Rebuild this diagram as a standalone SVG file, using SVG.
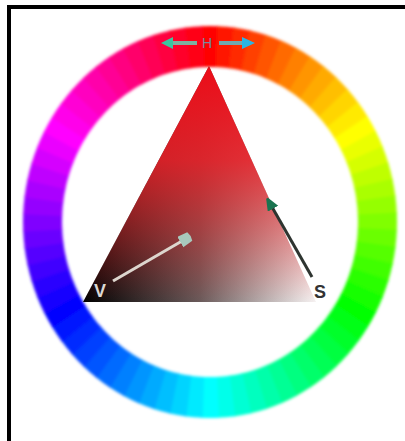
<svg xmlns="http://www.w3.org/2000/svg" xmlns:xlink="http://www.w3.org/1999/xlink" width="405" height="441" viewBox="0 0 405 441">
<defs>
<style>
.lbl{font-family:"Liberation Sans",Arial,sans-serif;text-anchor:middle}
.frame{stroke:#000;stroke-width:4;fill:none}
</style>
<filter id="soft" x="-5%" y="-5%" width="110%" height="110%"><feGaussianBlur stdDeviation="1.6"/></filter>
<path id="w" d="M -8.97 -186.78 A 187 187 0 0 1 8.97 -186.78 L 7.10 -147.83 A 148 148 0 0 0 -7.10 -147.83 Z"/>
<linearGradient id="gBase" gradientUnits="userSpaceOnUse" x1="83" y1="0" x2="316" y2="0">
<stop offset="0" stop-color="#000"/><stop offset="0.5" stop-color="#6a5a5a"/><stop offset="1" stop-color="#f6f2f2"/>
</linearGradient>
<linearGradient id="gRed" gradientUnits="userSpaceOnUse" x1="0" y1="66" x2="0" y2="302">
<stop offset="0" stop-color="#ec0c18" stop-opacity="1"/><stop offset="0.4" stop-color="#ec1c24" stop-opacity="0.85"/><stop offset="1" stop-color="#e82020" stop-opacity="0"/>
</linearGradient>
<marker id="hL" markerUnits="userSpaceOnUse" markerWidth="14" markerHeight="14" refX="2" refY="6" orient="auto"><path d="M0 0 L12 6 L0 12 Z" fill="#3cc4a0"/></marker>
<marker id="hR" markerUnits="userSpaceOnUse" markerWidth="16" markerHeight="14" refX="2" refY="6" orient="auto"><path d="M0 0 L13 6 L0 12 Z" fill="#2cb4e4"/></marker>
<marker id="vH" markerUnits="userSpaceOnUse" markerWidth="14" markerHeight="14" refX="2" refY="6" orient="auto"><path d="M0 0 L11 1 L12 6 L11 11 L0 12 Z" fill="#a8c8bc"/></marker>
<marker id="sH" markerUnits="userSpaceOnUse" markerWidth="14" markerHeight="14" refX="2" refY="6" orient="auto"><path d="M0 0 L12 5 L12 7 L0 12 Z" fill="#1a7450"/></marker>
</defs>
<rect width="405" height="441" fill="#fff"/>
<g id="frame"><path class="frame" d="M9 441 V7 H405"/></g>
<g id="hue-ring" filter="url(#soft)">
<g transform="translate(210 222) scale(1 1.048)">
<use xlink:href="#w" transform="rotate(0)" fill="hsl(0,100%,50%)"/><use xlink:href="#w" transform="rotate(5)" fill="hsl(5,100%,50%)"/><use xlink:href="#w" transform="rotate(10)" fill="hsl(10,100%,50%)"/><use xlink:href="#w" transform="rotate(15)" fill="hsl(15,100%,50%)"/><use xlink:href="#w" transform="rotate(20)" fill="hsl(20,100%,50%)"/><use xlink:href="#w" transform="rotate(25)" fill="hsl(25,100%,50%)"/><use xlink:href="#w" transform="rotate(30)" fill="hsl(30,100%,50%)"/><use xlink:href="#w" transform="rotate(35)" fill="hsl(35,100%,50%)"/><use xlink:href="#w" transform="rotate(40)" fill="hsl(40,100%,50%)"/><use xlink:href="#w" transform="rotate(45)" fill="hsl(45,100%,50%)"/><use xlink:href="#w" transform="rotate(50)" fill="hsl(50,100%,50%)"/><use xlink:href="#w" transform="rotate(55)" fill="hsl(55,100%,50%)"/>
<use xlink:href="#w" transform="rotate(60)" fill="hsl(60,100%,50%)"/><use xlink:href="#w" transform="rotate(65)" fill="hsl(65,100%,50%)"/><use xlink:href="#w" transform="rotate(70)" fill="hsl(70,100%,50%)"/><use xlink:href="#w" transform="rotate(75)" fill="hsl(75,100%,50%)"/><use xlink:href="#w" transform="rotate(80)" fill="hsl(80,100%,50%)"/><use xlink:href="#w" transform="rotate(85)" fill="hsl(85,100%,50%)"/><use xlink:href="#w" transform="rotate(90)" fill="hsl(90,100%,50%)"/><use xlink:href="#w" transform="rotate(95)" fill="hsl(95,100%,50%)"/><use xlink:href="#w" transform="rotate(100)" fill="hsl(100,100%,50%)"/><use xlink:href="#w" transform="rotate(105)" fill="hsl(105,100%,50%)"/><use xlink:href="#w" transform="rotate(110)" fill="hsl(110,100%,50%)"/><use xlink:href="#w" transform="rotate(115)" fill="hsl(115,100%,50%)"/>
<use xlink:href="#w" transform="rotate(120)" fill="hsl(120,100%,50%)"/><use xlink:href="#w" transform="rotate(125)" fill="hsl(125,100%,50%)"/><use xlink:href="#w" transform="rotate(130)" fill="hsl(130,100%,50%)"/><use xlink:href="#w" transform="rotate(135)" fill="hsl(135,100%,50%)"/><use xlink:href="#w" transform="rotate(140)" fill="hsl(140,100%,50%)"/><use xlink:href="#w" transform="rotate(145)" fill="hsl(145,100%,50%)"/><use xlink:href="#w" transform="rotate(150)" fill="hsl(150,100%,50%)"/><use xlink:href="#w" transform="rotate(155)" fill="hsl(155,100%,50%)"/><use xlink:href="#w" transform="rotate(160)" fill="hsl(160,100%,50%)"/><use xlink:href="#w" transform="rotate(165)" fill="hsl(165,100%,50%)"/><use xlink:href="#w" transform="rotate(170)" fill="hsl(170,100%,50%)"/><use xlink:href="#w" transform="rotate(175)" fill="hsl(175,100%,50%)"/>
<use xlink:href="#w" transform="rotate(180)" fill="hsl(180,100%,50%)"/><use xlink:href="#w" transform="rotate(185)" fill="hsl(185,100%,50%)"/><use xlink:href="#w" transform="rotate(190)" fill="hsl(190,100%,50%)"/><use xlink:href="#w" transform="rotate(195)" fill="hsl(195,100%,50%)"/><use xlink:href="#w" transform="rotate(200)" fill="hsl(200,100%,50%)"/><use xlink:href="#w" transform="rotate(205)" fill="hsl(205,100%,50%)"/><use xlink:href="#w" transform="rotate(210)" fill="hsl(210,100%,50%)"/><use xlink:href="#w" transform="rotate(215)" fill="hsl(215,100%,50%)"/><use xlink:href="#w" transform="rotate(220)" fill="hsl(220,100%,50%)"/><use xlink:href="#w" transform="rotate(225)" fill="hsl(225,100%,50%)"/><use xlink:href="#w" transform="rotate(230)" fill="hsl(230,100%,50%)"/><use xlink:href="#w" transform="rotate(235)" fill="hsl(235,100%,50%)"/>
<use xlink:href="#w" transform="rotate(240)" fill="hsl(240,100%,50%)"/><use xlink:href="#w" transform="rotate(245)" fill="hsl(245,100%,50%)"/><use xlink:href="#w" transform="rotate(250)" fill="hsl(250,100%,50%)"/><use xlink:href="#w" transform="rotate(255)" fill="hsl(255,100%,50%)"/><use xlink:href="#w" transform="rotate(260)" fill="hsl(260,100%,50%)"/><use xlink:href="#w" transform="rotate(265)" fill="hsl(265,100%,50%)"/><use xlink:href="#w" transform="rotate(270)" fill="hsl(270,100%,50%)"/><use xlink:href="#w" transform="rotate(275)" fill="hsl(275,100%,50%)"/><use xlink:href="#w" transform="rotate(280)" fill="hsl(280,100%,50%)"/><use xlink:href="#w" transform="rotate(285)" fill="hsl(285,100%,50%)"/><use xlink:href="#w" transform="rotate(290)" fill="hsl(290,100%,50%)"/><use xlink:href="#w" transform="rotate(295)" fill="hsl(295,100%,50%)"/>
<use xlink:href="#w" transform="rotate(300)" fill="hsl(300,100%,50%)"/><use xlink:href="#w" transform="rotate(305)" fill="hsl(305,100%,50%)"/><use xlink:href="#w" transform="rotate(310)" fill="hsl(310,100%,50%)"/><use xlink:href="#w" transform="rotate(315)" fill="hsl(315,100%,50%)"/><use xlink:href="#w" transform="rotate(320)" fill="hsl(320,100%,50%)"/><use xlink:href="#w" transform="rotate(325)" fill="hsl(325,100%,50%)"/><use xlink:href="#w" transform="rotate(330)" fill="hsl(330,100%,50%)"/><use xlink:href="#w" transform="rotate(335)" fill="hsl(335,100%,50%)"/><use xlink:href="#w" transform="rotate(340)" fill="hsl(340,100%,50%)"/><use xlink:href="#w" transform="rotate(345)" fill="hsl(345,100%,50%)"/><use xlink:href="#w" transform="rotate(350)" fill="hsl(350,100%,50%)"/><use xlink:href="#w" transform="rotate(355)" fill="hsl(355,100%,50%)"/>
</g>
</g>
<g id="sv-triangle">
<path d="M209 66 L316 302 L83 302 Z" fill="url(#gBase)"/>
<path d="M209 66 L316 302 L83 302 Z" fill="url(#gRed)"/>
</g>
<g id="connectors">
<line x1="197" y1="43" x2="171" y2="43" stroke="#7fb0a0" stroke-width="4" marker-end="url(#hL)"/>
<line x1="219" y1="43" x2="244" y2="43" stroke="#70a8b0" stroke-width="4" marker-end="url(#hR)"/>
<line x1="113" y1="281" x2="182" y2="241" stroke="#ddd6ce" stroke-width="3" marker-end="url(#vH)"/>
<line x1="312" y1="277" x2="272" y2="207" stroke="#2e3430" stroke-width="3" marker-end="url(#sH)"/>
</g>
<g id="label-h"><text class="lbl" x="207" y="48" font-size="14" fill="#7a88a0">H</text></g>
<g id="label-v"><text class="lbl" x="100" y="297" font-size="18" font-weight="bold" fill="#dcd8d4">V</text></g>
<g id="label-s"><text class="lbl" x="320" y="298" font-size="18" font-weight="bold" fill="#333">S</text></g>
</svg>
